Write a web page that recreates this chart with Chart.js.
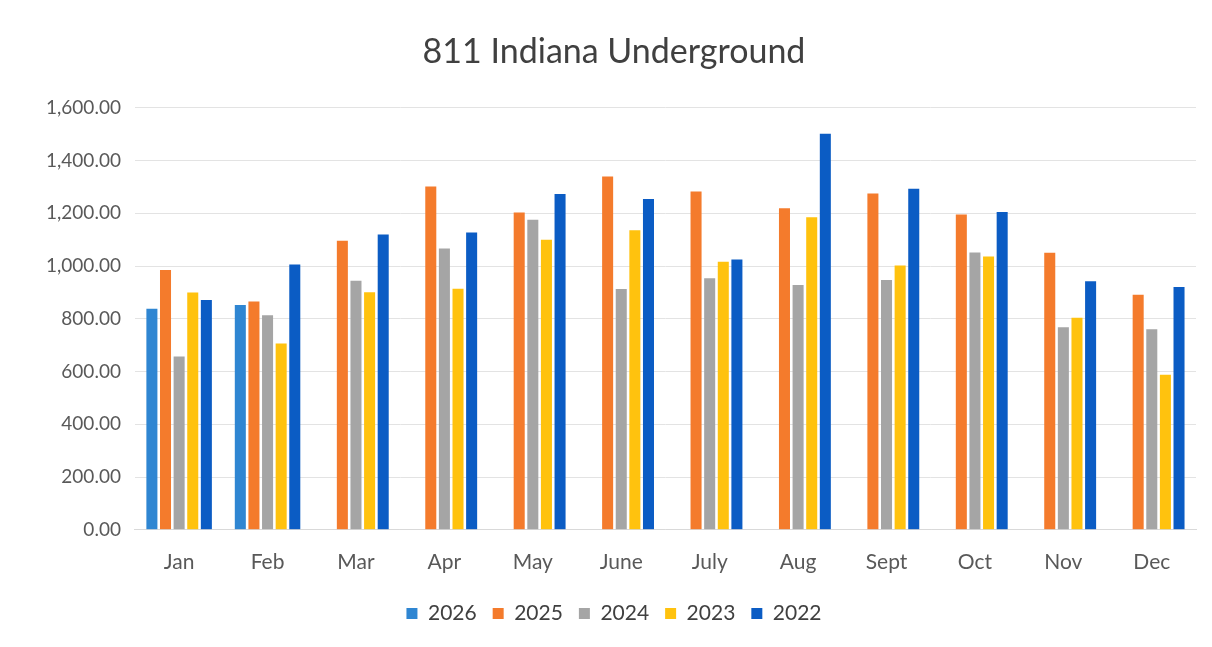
<!DOCTYPE html>
<html>
<head>
<meta charset="utf-8">
<script src="https://cdn.jsdelivr.net/npm/chart.js@4"></script>
<style>
  html, body { margin: 0; padding: 0; background: #fff; }
  #wrap { width: 1212px; height: 647px; }
</style>
</head>
<body>
<div id="wrap"><canvas id="UndergroundChart"></canvas></div>
<script>
const months = ['Jan', 'Feb', 'Mar', 'Apr', 'May', 'June', 'July', 'Aug', 'Sept', 'Oct', 'Nov', 'Dec'];
const y2026 = [838, 852, null, null, null, null, null, null, null, null, null, null];
const y2025 = [985, 866, 1096, 1302, 1203, 1340, 1283, 1219, 1275, 1195, 1050, 891];
const y2024 = [657, 813, 944, 1067, 1176, 913, 954, 928, 947, 1051, 768, 760];
const y2023 = [900, 706, 901, 914, 1100, 1136, 1016, 1185, 1002, 1036, 804, 588];
const y2022 = [871, 1006, 1120, 1127, 1273, 1254, 1025, 1502, 1293, 1205, 942, 921];

const ctx = document.getElementById('UndergroundChart')
const UndergroundChart = new Chart(ctx, {
  type: 'bar',
  data: {
    labels: months,
    datasets: [
      { label: '2026', data: y2026, backgroundColor: '#2F86D2' },
      { label: '2025', data: y2025, backgroundColor: '#F47B2C' },
      { label: '2024', data: y2024, backgroundColor: '#A5A5A5' },
      { label: '2023', data: y2023, backgroundColor: '#FFC20E' },
      { label: '2022', data: y2022, backgroundColor: '#0B5CC4' }
    ]
  },
  options: {
    responsive: true,
    maintainAspectRatio: false,
    animation: false,
    datasets: {
      bar: { categoryPercentage: 0.77, barPercentage: 0.81 }
    },
    layout: {
      padding: { top: 22, left: 32, right: 16, bottom: 13 }
    },
    scales: {
      y: {
        min: 0,
        max: 1600,
        ticks: {
          stepSize: 200,
          color: '#595959',
          padding: 14,
          font: { family: 'Lato', size: 19 },
          callback: value => value.toLocaleString('en-US', { minimumFractionDigits: 2, maximumFractionDigits: 2 })
        },
        border: { display: false },
        grid: { color: '#E3E3E3', drawTicks: false }
      },
      x: {
        ticks: {
          color: '#595959',
          padding: 12,
          font: { family: 'Lato', size: 21 }
        },
        border: { color: '#D9D9D9' },
        grid: { display: false }
      }
    },
    plugins: {
      title: {
        display: true,
        text: '811 Indiana Underground',
        color: '#404040',
        font: { family: 'Lato', size: 34, weight: 'normal' },
        padding: { top: 10, bottom: 35 }
      },
      legend: {
        position: 'bottom',
        labels: {
          color: '#404040',
          boxWidth: 11,
          boxHeight: 11,
          padding: 16,
          font: { family: 'Lato', size: 21 }
        }
      },
      tooltip: { enabled: false }
    }
  }
});
</script>
</body>
</html>
